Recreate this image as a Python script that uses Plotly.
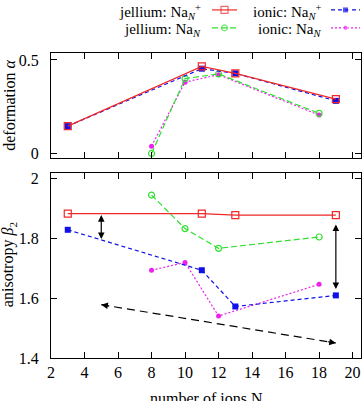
import plotly.graph_objects as go

# ---------------- data ----------------
n_cation = [3, 11, 13, 19]      # Na_N^+
n_neutral = [8, 10, 12, 18]     # Na_N

alpha_jellium_cat = [0.146, 0.465, 0.428, 0.290]
alpha_ionic_cat = [0.146, 0.453, 0.428, 0.281]
alpha_jellium_neu = [0.0, 0.400, 0.425, 0.214]
alpha_ionic_neu = [0.039, 0.381, 0.421, 0.205]

beta_jellium_cat = [1.882, 1.882, 1.877, 1.877]
beta_ionic_cat = [1.828, 1.693, 1.572, 1.609]
beta_jellium_neu = [1.944, 1.832, 1.766, 1.804]
beta_ionic_neu = [1.693, 1.719, 1.540, 1.646]

x_ticks = [2, 4, 6, 8, 10, 12, 14, 16, 18, 20]
alpha_ticks = [0, 0.5]
alpha_ticklabels = ["0", "0.5"]
beta_ticks = [1.4, 1.6, 1.8, 2.0]
beta_ticklabels = ["1.4", "1.6", "1.8", "2"]

# double arrows (x, y_start, y_end)
arrow_left = (5, 1.882, 1.797)
arrow_right = (19, 1.851, 1.630)
# dashed double arrow ((x0, y0), (x1, y1))
trend_arrow = ((5, 1.578), (19, 1.450))

legend_labels = [
    "jellium: Na<sub><i>N</i></sub><sup>+</sup>",
    "ionic: Na<sub><i>N</i></sub><sup>+</sup>",
    "jellium: Na<sub><i>N</i></sub>",
    "ionic: Na<sub><i>N</i></sub>",
]

# ---------------- styles ----------------
FONT = "Liberation Serif"
RED = "#f02828"
BLUE = "#1010e8"
GREEN = "#30e030"
MAGENTA = "#ee20ee"

styles = {
    "jc": dict(line=dict(color=RED, width=1.2),
               marker=dict(symbol="square-open", size=7, color=RED, line=dict(width=1.2, color=RED))),
    "ic": dict(line=dict(color=BLUE, width=1.2, dash="4px,3px"),
               marker=dict(symbol="square", size=6, color=BLUE)),
    "jn": dict(line=dict(color=GREEN, width=1.2, dash="6px,3px"),
               marker=dict(symbol="circle-open", size=6, color=GREEN, line=dict(width=1.2, color=GREEN))),
    "in": dict(line=dict(color=MAGENTA, width=1.2, dash="2px,2px"),
               marker=dict(symbol="circle", size=5, color=MAGENTA)),
}

fig = go.Figure()

series = [
    ("jc", n_cation, alpha_jellium_cat, beta_jellium_cat),
    ("ic", n_cation, alpha_ionic_cat, beta_ionic_cat),
    ("jn", n_neutral, alpha_jellium_neu, beta_jellium_neu),
    ("in", n_neutral, alpha_ionic_neu, beta_ionic_neu),
]
for key, xs, a, b in series[::-1]:
    st = styles[key]
    fig.add_trace(go.Scatter(x=xs, y=a, mode="lines+markers", line=st["line"], marker=st["marker"],
                             xaxis="x", yaxis="y", showlegend=False, cliponaxis=False))
    fig.add_trace(go.Scatter(x=xs, y=b, mode="lines+markers", line=st["line"], marker=st["marker"],
                             xaxis="x2", yaxis="y2", showlegend=False, cliponaxis=False))

# dashed trend line
(tx0, ty0), (tx1, ty1) = trend_arrow
fig.add_trace(go.Scatter(x=[tx0, tx1], y=[ty0, ty1], mode="lines",
                         line=dict(color="black", width=1.2, dash="8px,5px"),
                         xaxis="x2", yaxis="y2", showlegend=False))

# legend samples on an overlay axis in pixel units
LEG_ROWS = [7, 25]
LEG_SAMPLES = [(212, 237), (331, 360)]
legend_keys = ["jc", "ic", "jn", "in"]
for i, key in enumerate(legend_keys):
    row = LEG_ROWS[i // 2]
    x0, x1 = LEG_SAMPLES[i % 2]
    st = styles[key]
    mk = dict(st["marker"])
    mk["size"] = [0, st["marker"]["size"], 0]
    fig.add_trace(go.Scatter(x=[x0, (x0 + x1) / 2, x1], y=[row] * 3, mode="lines+markers",
                             line=st["line"], marker=mk, xaxis="x3", yaxis="y3",
                             showlegend=False, cliponaxis=False))

annotations = []
LEG_TEXT_RIGHT = [203, 323]
LEG_TEXT_ROWS = [9, 27]
for i, lab in enumerate(legend_labels):
    annotations.append(dict(text=lab, x=LEG_TEXT_RIGHT[i % 2], y=LEG_TEXT_ROWS[i // 2],
                            xref="x3", yref="y3", xanchor="right", yanchor="middle",
                            showarrow=False, font=dict(family=FONT, size=15, color="black")))

# double arrows
for (ax_x, y0, y1) in [arrow_left, arrow_right]:
    annotations.append(dict(x=ax_x, y=y1, ax=ax_x, ay=y0, xref="x2", yref="y2", axref="x2", ayref="y2",
                            text="", showarrow=True, arrowhead=2, arrowside="end+start",
                            arrowsize=1.1, arrowwidth=1.2, arrowcolor="black"))
# heads of dashed arrow
frac = 0.04
for (px, py), (qx, qy) in [((tx0, ty0), (tx1, ty1)), ((tx1, ty1), (tx0, ty0))]:
    annotations.append(dict(x=px, y=py, ax=px + (qx - px) * frac, ay=py + (qy - py) * frac,
                            xref="x2", yref="y2", axref="x2", ayref="y2", text="", showarrow=True,
                            arrowhead=2, arrowsize=1.1, arrowwidth=1.2, arrowcolor="black"))

# axis titles
annotations.append(dict(text="deformation <i>α</i>", x=-0.135, y=0.711, xref="paper", yref="paper",
                        textangle=-90, showarrow=False, xanchor="center", yanchor="middle",
                        font=dict(family=FONT, size=16, color="black")))
annotations.append(dict(text="anisotropy <i>β</i><sub>2</sub>", x=-0.135, y=0.262, xref="paper", yref="paper",
                        textangle=-90, showarrow=False, xanchor="center", yanchor="middle",
                        font=dict(family=FONT, size=16, color="black")))
annotations.append(dict(text="number of ions N", x=0.5, y=-0.113, xref="paper", yref="paper",
                        showarrow=False, xanchor="center", yanchor="middle",
                        font=dict(family=FONT, size=16, color="black")))

common_axis = dict(showline=True, linecolor="black", linewidth=1.2, mirror="ticks", ticks="inside",
                   ticklen=6, tickcolor="black", tickwidth=1, showgrid=False, zeroline=False,
                   tickfont=dict(family=FONT, size=16, color="black"))

fig.update_layout(
    width=363, height=401,
    margin=dict(l=51, r=2, t=0, b=43),
    font=dict(family=FONT, size=16, color="black"),
    paper_bgcolor="white", plot_bgcolor="rgba(0,0,0,0)",
    showlegend=False,
    xaxis=dict(domain=[0, 1], anchor="y", range=[2, 20.5], tickvals=x_ticks, showticklabels=False, **common_axis),
    yaxis=dict(domain=[0.5623, 0.8603], anchor="x", range=[-0.0265, 0.539], tickvals=alpha_ticks,
               ticktext=alpha_ticklabels, ticklabelstandoff=8, **common_axis),
    xaxis2=dict(domain=[0, 1], anchor="y2", range=[2, 20.5], tickvals=x_ticks, ticklabelstandoff=0, **common_axis),
    yaxis2=dict(domain=[0, 0.5223], anchor="x2", range=[1.4, 2.019], tickvals=beta_ticks,
                ticktext=beta_ticklabels, ticklabelstandoff=8, **common_axis),
    xaxis3=dict(domain=[0, 1], anchor="y3", range=[51, 361], visible=False, fixedrange=True),
    yaxis3=dict(domain=[0, 1], anchor="x3", range=[358, 0], visible=False, fixedrange=True),
    annotations=annotations,
)

fig.write_html("out.html")
